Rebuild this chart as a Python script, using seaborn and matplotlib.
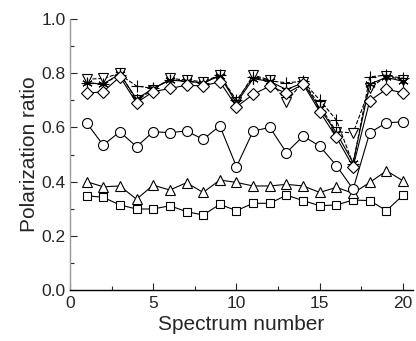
import matplotlib
matplotlib.use("Agg")
import matplotlib.pyplot as plt
import seaborn as sns
from matplotlib.ticker import MultipleLocator, FormatStrFormatter

spectrum = list(range(1, 21))

squares = [0.348, 0.342, 0.314, 0.299, 0.299, 0.311, 0.289, 0.277, 0.316, 0.293,
           0.320, 0.320, 0.350, 0.330, 0.311, 0.314, 0.332, 0.330, 0.293, 0.350]
triangles = [0.400, 0.381, 0.384, 0.335, 0.387, 0.369, 0.396, 0.360, 0.406, 0.397,
             0.384, 0.384, 0.390, 0.384, 0.360, 0.379, 0.357, 0.397, 0.440, 0.403]
circles = [0.617, 0.535, 0.584, 0.529, 0.584, 0.581, 0.587, 0.556, 0.606, 0.455,
           0.587, 0.600, 0.507, 0.568, 0.531, 0.459, 0.372, 0.581, 0.617, 0.621]
down_tri = [0.778, 0.781, 0.800, 0.700, 0.740, 0.781, 0.775, 0.769, 0.793, 0.695,
            0.793, 0.775, 0.695, 0.769, 0.680, 0.584, 0.580, 0.744, 0.790, 0.775]
stars = [0.765, 0.760, 0.798, 0.705, 0.744, 0.775, 0.770, 0.765, 0.790, 0.690,
         0.780, 0.770, 0.740, 0.765, 0.670, 0.580, 0.470, 0.760, 0.785, 0.770]
pluses = [0.765, 0.760, 0.795, 0.753, 0.744, 0.775, 0.772, 0.763, 0.793, 0.700,
          0.785, 0.772, 0.765, 0.770, 0.701, 0.627, 0.465, 0.787, 0.793, 0.781]
diamonds = [0.726, 0.732, 0.787, 0.691, 0.732, 0.744, 0.756, 0.753, 0.769, 0.676,
            0.722, 0.753, 0.726, 0.760, 0.658, 0.563, 0.455, 0.699, 0.741, 0.728]

sns.set_style("ticks")
plt.rcParams['font.family'] = ['Liberation Sans', 'DejaVu Sans']

fig = plt.figure(figsize=(4.16, 3.41), dpi=100)
ax = fig.add_axes([0.168, 0.1496, 0.825, 0.7944])

series = [
    (squares, 's', '-', 6),
    (triangles, '^', '-', 7.2),
    (circles, 'o', '-', 7.2),
    (down_tri, 'v', '--', 7.2),
    (stars, (6, 2, 0), '-', 7.5),
    (pluses, '+', '--', 8.5),
    (diamonds, 'D', '-', 6),
]
for vals, m, ls, ms in series:
    sns.lineplot(x=spectrum, y=vals, ax=ax, color='black', linewidth=0.8,
                 linestyle=ls, marker=m, markersize=ms,
                 markerfacecolor='white', markeredgecolor='black',
                 markeredgewidth=0.8)

ax.set_xlim(0, 20.6)
ax.set_ylim(0, 1.0)
ax.xaxis.set_major_locator(MultipleLocator(5))
ax.xaxis.set_minor_locator(MultipleLocator(2.5))
ax.yaxis.set_major_locator(MultipleLocator(0.2))
ax.yaxis.set_minor_locator(MultipleLocator(0.1))
ax.xaxis.set_major_formatter(FormatStrFormatter('%d'))
ax.yaxis.set_major_formatter(FormatStrFormatter('%.1f'))

ax.tick_params(which='major', direction='in', length=5, width=0.8, labelsize=12.5)
ax.tick_params(axis='x', which='major', pad=4)
ax.tick_params(axis='y', which='major', pad=3)
ax.tick_params(which='minor', direction='in', length=3, width=0.8)
sns.despine(ax=ax)
ax.spines['left'].set_color('#999999')
ax.spines['bottom'].set_color('black')
ax.spines['left'].set_linewidth(1.0)
ax.spines['bottom'].set_linewidth(1.0)

ax.set_xlabel("Spectrum number", fontsize=15, labelpad=3)
ax.set_ylabel("Polarization ratio", fontsize=15, labelpad=2)

fig.savefig("out.png", dpi=100)
